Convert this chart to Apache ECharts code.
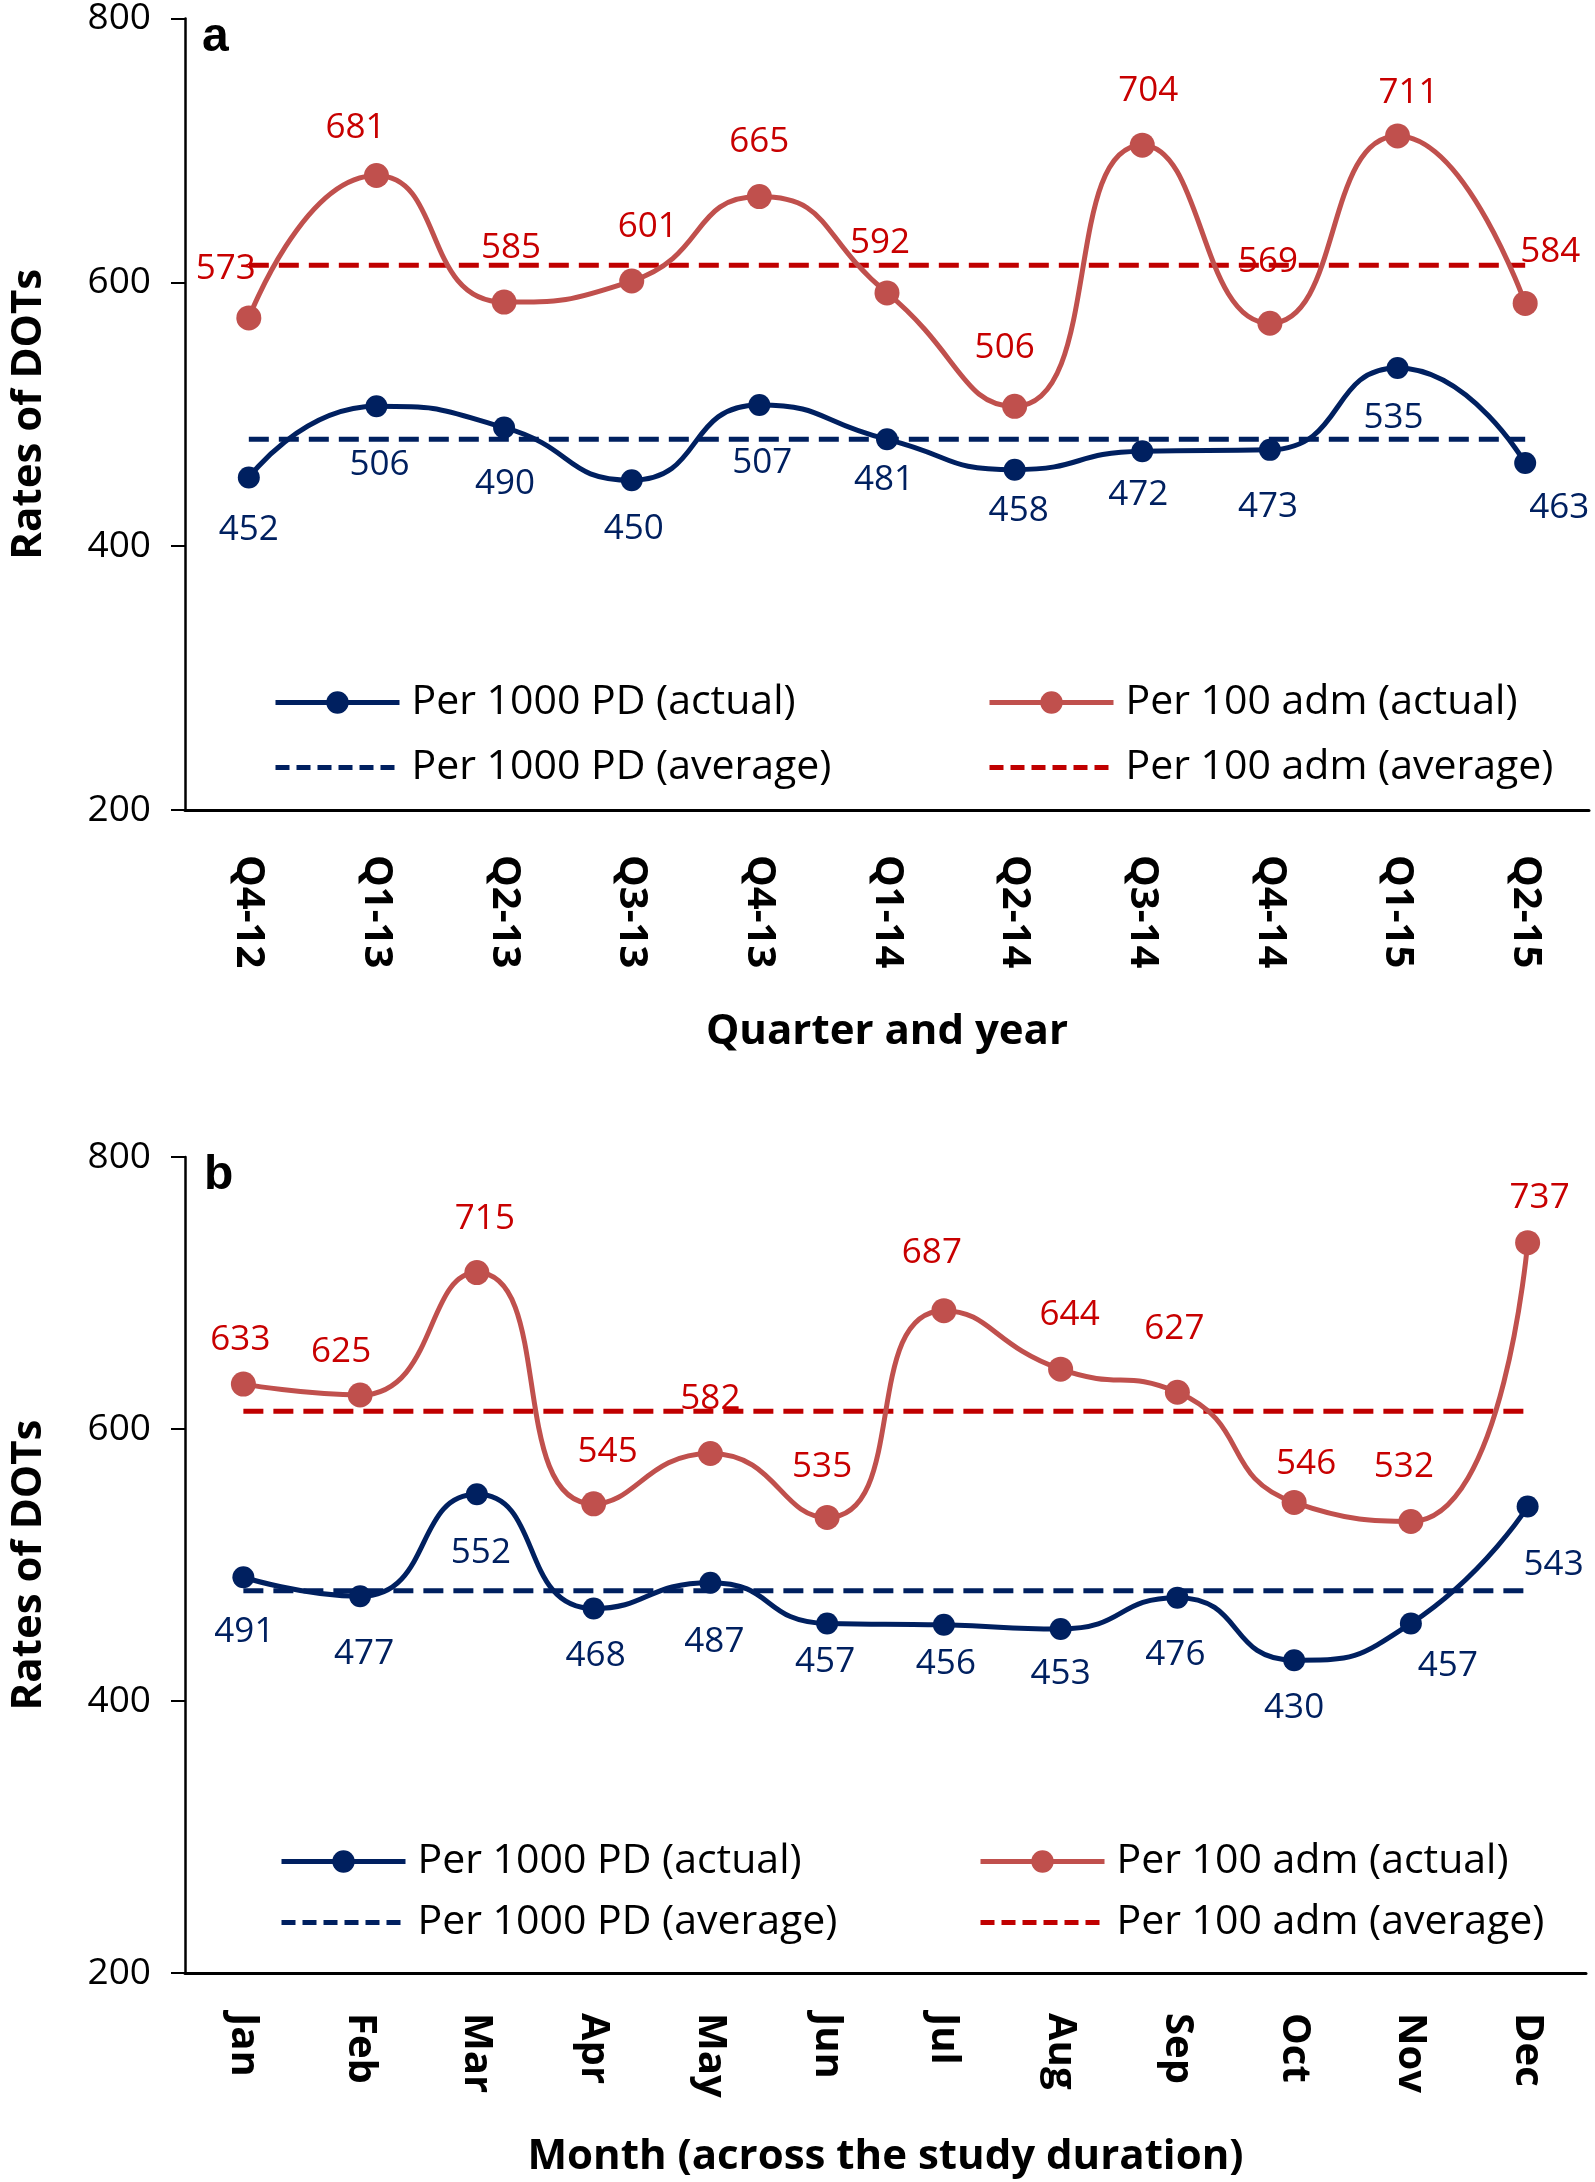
<!DOCTYPE html>
<html lang="en">
<head>
<meta charset="UTF-8">
<title>Rates of DOTs</title>
<script src="https://cdn.jsdelivr.net/npm/echarts@6/dist/echarts.min.js"></script>
<style>html,body{margin:0;padding:0;background:#fff;}</style>
</head>
<body>
<div id="main" style="width:1595px;height:2182px;"></div>
<script type="text/javascript">
// panel a - by quarter
var quarters = ['Q4-12', 'Q1-13', 'Q2-13', 'Q3-13', 'Q4-13', 'Q1-14', 'Q2-14', 'Q3-14', 'Q4-14', 'Q1-15', 'Q2-15'];
var pdQuarter = [452, 506, 490, 450, 507, 481, 458, 472, 473, 535, 463];
var admQuarter = [573, 681, 585, 601, 665, 592, 506, 704, 569, 711, 584];
var pdQuarterAvg = 481;
var admQuarterAvg = 613;

// panel b - by month
var months = ['Jan', 'Feb', 'Mar', 'Apr', 'May', 'Jun', 'Jul', 'Aug', 'Sep', 'Oct', 'Nov', 'Dec'];
var pdMonth = [491, 477, 552, 468, 487, 457, 456, 453, 476, 430, 457, 543];
var admMonth = [633, 625, 715, 545, 582, 535, 687, 644, 627, 546, 532, 737];
var pdMonthAvg = 481;
var admMonthAvg = 613;

var yTicks = [200, 800, 200]; // min, max, step

// where each data label sits relative to its marker (px)
var admQuarterLabelPos = [[-23,-49],[-21,-47],[7,-54],[16,-54],[0,-55],[-7,-50],[-10,-58],[6,-54],[-2,-61],[11,-43],[25,-51]];
var pdQuarterLabelPos = [[0,52],[3,59],[1,57],[2,49],[3,58],[-3,41],[4,41],[-4,44],[-2,57],[-4,50],[34,45]];
var admMonthLabelPos = [[-3,-44],[-19,-43],[8,-54],[14,-52],[0,-54],[-5,-50],[-12,-58],[9,-54],[-3,-63],[12,-38],[-7,-54],[12,-45]];
var pdMonthLabelPos = [[1,55],[4,58],[4,59],[2,48],[4,59],[-2,39],[2,39],[0,45],[-2,57],[0,48],[37,43],[26,59]];

var FONT = "'Open Sans', 'Noto Sans', sans-serif";
var RED_LINE = '#C0504D', RED_TEXT = '#C80000', RED_AVG = '#C00000';
var BLUE = '#002060';

var NAME_PD = 'Per 1000 PD (actual)';
var NAME_ADM = 'Per 100 adm (actual)';
var NAME_PD_AVG = 'Per 1000 PD (average)';
var NAME_ADM_AVG = 'Per 100 adm (average)';

function labelled(values, pos) {
    return values.map(function (v, i) {
        return { value: v, label: { offset: pos[i] } };
    });
}

function flat(cats, v) {
    return cats.map(function () { return v; });
}

function xAxisFor(idx, cats, name, margin, gap) {
    return {
        type: 'category', gridIndex: idx, data: cats,
        axisLine: { lineStyle: { color: '#000', width: 3 } },
        axisTick: { length: 14, lineStyle: { color: '#000', width: 2 } },
        axisLabel: { rotate: -90, margin: margin, color: '#000', fontFamily: FONT, fontWeight: 'bold', fontSize: 40 },
        name: name, nameLocation: 'middle', nameGap: gap,
        nameTextStyle: { color: '#000', fontFamily: FONT, fontWeight: 'bold', fontSize: 42 }
    };
}

function yAxisFor(idx) {
    return {
        type: 'value', gridIndex: idx, min: yTicks[0], max: yTicks[1], interval: yTicks[2],
        axisLine: { show: true, lineStyle: { color: '#000', width: 2.5 } },
        axisTick: { show: true, length: 14, lineStyle: { color: '#000', width: 2 } },
        splitLine: { show: false },
        axisLabel: { margin: 34, color: '#000', fontFamily: FONT, fontSize: 37 },
        name: 'Rates of DOTs', nameLocation: 'middle', nameGap: 135,
        nameTextStyle: { color: '#000', fontFamily: FONT, fontWeight: 'bold', fontSize: 42 }
    };
}

function avgSeries(idx, name, data, color) {
    return {
        name: name, type: 'line', xAxisIndex: idx, yAxisIndex: idx,
        data: data, symbol: 'none', silent: true,
        lineStyle: { color: color, width: 5, type: [20, 10] },
        itemStyle: { color: color }
    };
}

function actualSeries(idx, name, data, lineColor, textColor, size) {
    return {
        name: name, type: 'line', xAxisIndex: idx, yAxisIndex: idx,
        data: data, smooth: 0.55, symbol: 'circle', symbolSize: size,
        lineStyle: { color: lineColor, width: 5 },
        itemStyle: { color: lineColor },
        label: {
            show: true, position: 'inside', color: textColor,
            fontFamily: FONT, fontSize: 35, textBorderWidth: 0
        }
    };
}

function legendAt(name, left, top, dashed) {
    var lg = {
        data: [name], left: left, top: top, padding: 0,
        itemWidth: 124, itemHeight: 28, selectedMode: false,
        textStyle: { color: '#000', fontFamily: FONT, fontSize: 41, padding: [0, 0, 0, 7] }
    };
    if (dashed) {
        lg.lineStyle = { type: [14, 7], width: 5 };
        lg.itemStyle = { color: 'transparent', borderWidth: 0, opacity: 0 };
    } else {
        lg.lineStyle = { width: 5 };
    }
    return lg;
}

var chart = echarts.init(document.getElementById('main'));

chart.setOption({
    animation: false,
    backgroundColor: '#fff',
    grid: [
        { left: 185, top: 18, width: 1404, height: 792 },
        { left: 185, top: 1157, width: 1401, height: 816 }
    ],
    xAxis: [
        xAxisFor(0, quarters, 'Quarter and year', 45, 201),
        xAxisFor(1, months, 'Month (across the study duration)', 40, 163)
    ],
    yAxis: [yAxisFor(0), yAxisFor(1)],
    legend: [
        legendAt(NAME_PD, 273, 682, false),
        legendAt(NAME_ADM, 987, 682, false),
        legendAt(NAME_PD_AVG, 273, 747, true),
        legendAt(NAME_ADM_AVG, 987, 747, true),
        legendAt(NAME_PD, 279, 1841, false),
        legendAt(NAME_ADM, 978, 1841, false),
        legendAt(NAME_PD_AVG, 279, 1902, true),
        legendAt(NAME_ADM_AVG, 978, 1902, true)
    ],
    graphic: [
        { type: 'text', left: 202, top: 14, style: { text: 'a', font: "bold 48px 'Liberation Sans', Arial, sans-serif", fill: '#000' } },
        { type: 'text', left: 204, top: 1152, style: { text: 'b', font: "bold 48px 'Liberation Sans', Arial, sans-serif", fill: '#000' } }
    ],
    series: [
        avgSeries(0, NAME_PD_AVG, flat(quarters, pdQuarterAvg), BLUE),
        avgSeries(0, NAME_ADM_AVG, flat(quarters, admQuarterAvg), RED_AVG),
        actualSeries(0, NAME_PD, labelled(pdQuarter, pdQuarterLabelPos), BLUE, BLUE, 22),
        actualSeries(0, NAME_ADM, labelled(admQuarter, admQuarterLabelPos), RED_LINE, RED_TEXT, 25),
        avgSeries(1, NAME_PD_AVG, flat(months, pdMonthAvg), BLUE),
        avgSeries(1, NAME_ADM_AVG, flat(months, admMonthAvg), RED_AVG),
        actualSeries(1, NAME_PD, labelled(pdMonth, pdMonthLabelPos), BLUE, BLUE, 22),
        actualSeries(1, NAME_ADM, labelled(admMonth, admMonthLabelPos), RED_LINE, RED_TEXT, 25)
    ]
});
</script>
</body>
</html>
